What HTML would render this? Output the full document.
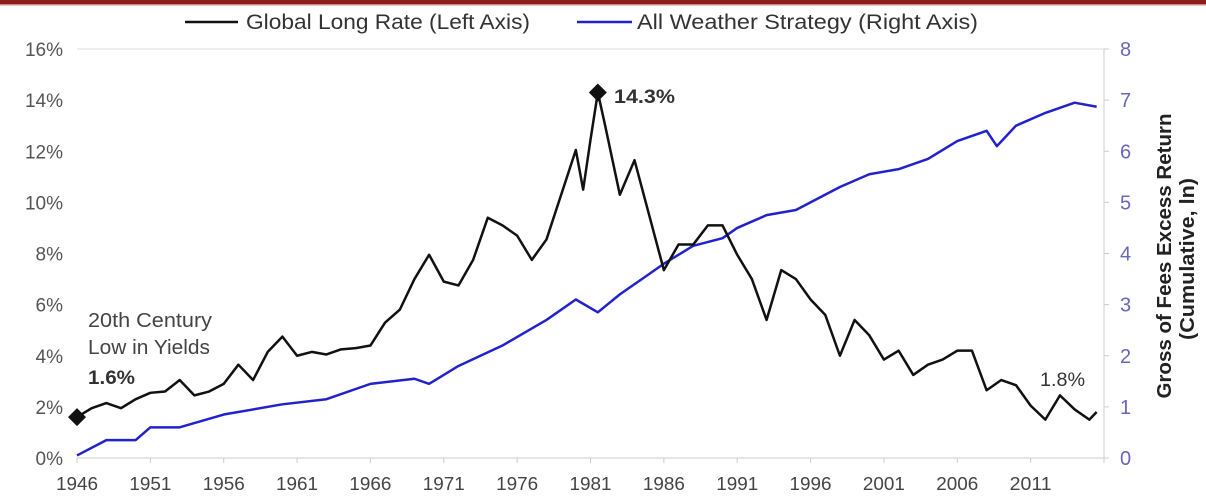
<!DOCTYPE html>
<html><head><meta charset="utf-8"><style>
body{margin:0;background:#fff;}
svg{display:block;font-family:"Liberation Sans",sans-serif;}
</style></head><body>
<svg id="chart" width="1206" height="501">
<rect x="0" y="0" width="1206" height="4" fill="#8b1c1c"/>
<rect x="0" y="4" width="1206" height="1.5" fill="#c88"/>
<g>
<line x1="185" y1="22" x2="238" y2="22" stroke="#111" stroke-width="2.5"/>
<text x="246" y="29" font-size="21" fill="#333" textLength="284" lengthAdjust="spacingAndGlyphs">Global Long Rate (Left Axis)</text>
<line x1="577" y1="22" x2="632" y2="22" stroke="#2222cc" stroke-width="2.5"/>
<text x="637" y="29" font-size="21" fill="#333" textLength="341" lengthAdjust="spacingAndGlyphs">All Weather Strategy (Right Axis)</text>
</g>
<line x1="77" y1="49" x2="1104" y2="49" stroke="#ddd"/>
<line x1="77" y1="458" x2="1104" y2="458" stroke="#ccc"/>
<line x1="1104" y1="49" x2="1104" y2="458" stroke="#ccc"/>
<g id="axes"></g>
<g id="series"></g>
<g>
<text x="88" y="327" font-size="20" fill="#444" textLength="124" lengthAdjust="spacingAndGlyphs">20th Century</text>
<text x="88" y="354" font-size="20" fill="#444" textLength="122" lengthAdjust="spacingAndGlyphs">Low in Yields</text>
<text x="88" y="384" font-size="19" font-weight="bold" fill="#333" textLength="47" lengthAdjust="spacingAndGlyphs">1.6%</text>
<text x="614" y="103" font-size="19" font-weight="bold" fill="#333" textLength="61" lengthAdjust="spacingAndGlyphs">14.3%</text>
<text x="1040" y="386" font-size="19" fill="#333" textLength="45" lengthAdjust="spacingAndGlyphs">1.8%</text>
</g>
<text transform="translate(1171,256) rotate(-90)" text-anchor="middle" font-size="20" font-weight="bold" fill="#222" textLength="285" lengthAdjust="spacingAndGlyphs">Gross of Fees Excess Return</text>
<text transform="translate(1194,259) rotate(-90)" text-anchor="middle" font-size="20" font-weight="bold" fill="#222" textLength="162" lengthAdjust="spacingAndGlyphs">(Cumulative, ln)</text>
</svg>
<script>
const xTicks=[1946,1951,1956,1961,1966,1971,1976,1981,1986,1991,1996,2001,2006,2011];
const leftTicks=[0,2,4,6,8,10,12,14,16];
const rightTicks=[0,1,2,3,4,5,6,7,8];
const rateYears=[1946,1947,1948,1949,1950,1951,1952,1953,1954,1955,1956,1957,1958,1959,1960,1961,1962,1963,1964,1965,1966,1967,1968,1969,1970,1971,1972,1973,1974,1975,1976,1977,1978,1979,1980,1980.5,1981,1981.5,1982,1983,1984,1985,1986,1987,1988,1989,1990,1991,1992,1993,1994,1995,1996,1997,1998,1999,2000,2001,2002,2003,2004,2005,2006,2007,2008,2009,2010,2011,2012,2013,2014,2015,2015.5];
const rateValues=[1.6,1.95,2.15,1.95,2.3,2.55,2.6,3.05,2.45,2.6,2.9,3.65,3.05,4.15,4.75,4.0,4.15,4.05,4.25,4.3,4.4,5.3,5.8,7.0,7.95,6.9,6.75,7.75,9.4,9.1,8.7,7.75,8.55,10.3,12.05,10.5,12.45,14.3,13.0,10.3,11.65,9.5,7.35,8.35,8.35,9.1,9.1,7.95,7.0,5.4,7.35,7.0,6.2,5.6,4.0,5.4,4.8,3.85,4.2,3.25,3.65,3.85,4.2,4.2,2.65,3.05,2.85,2.05,1.5,2.45,1.9,1.5,1.8];
const awYears=[1946,1948,1950,1951,1953,1956,1960,1963,1966,1969,1970,1972,1975,1978,1980,1981.5,1983,1986,1988,1990,1991,1993,1995,1998,2000,2002,2004,2006,2008,2008.7,2010,2012,2014,2015.5];
const awValues=[0.05,0.35,0.35,0.6,0.6,0.85,1.05,1.15,1.45,1.55,1.45,1.8,2.2,2.7,3.1,2.85,3.2,3.8,4.15,4.3,4.5,4.75,4.85,5.3,5.55,5.65,5.85,6.2,6.4,6.1,6.5,6.75,6.95,6.87];
const markerYears=[1946,1981.5];
const markerValues=[1.6,14.3];

const X0=77,X1=1104,Y0=458,Y1=49,YR0=1946,YR1=2016;
const xs=y=>X0+(y-YR0)*(X1-X0)/(YR1-YR0);
const yl=v=>Y0-v*(Y0-Y1)/16;
const yr=v=>Y0-v*(Y0-Y1)/8;
const NS="http://www.w3.org/2000/svg";
const axes=document.getElementById('axes'),ser=document.getElementById('series');
function mk(tag,attrs,parent){const e=document.createElementNS(NS,tag);for(const k in attrs)e.setAttribute(k,attrs[k]);parent.appendChild(e);return e;}
xTicks.forEach(t=>{
  const tk=mk('line',{x1:xs(t),x2:xs(t),y1:Y0,y2:Y0+5,stroke:'#ccc'},axes);
  
  
  const tx=mk('text',{x:xs(t),y:490,'text-anchor':'middle','font-size':18,fill:'#444',textLength:42,lengthAdjust:'spacingAndGlyphs'},axes);
  tx.textContent=t;
  
  
});
const endTick=mk('line',{x1:xs(2016),x2:xs(2016),y1:Y0,y2:Y0+5,stroke:'#ccc'},axes);


leftTicks.forEach(t=>{
  const tx=mk('text',{x:63,y:yl(t)+7,'text-anchor':'end','font-size':19,fill:'#555'},axes);
  tx.textContent=t+'%';
  
  
});
rightTicks.forEach(t=>{
  const tk=mk('line',{x1:X1,x2:X1+5,y1:yr(t),y2:yr(t),stroke:'#ccc'},axes);
  
  
  const tx=mk('text',{x:1120,y:yr(t)+7,'font-size':20,fill:'#6666bb'},axes);
  tx.textContent=t;
  
  
});
const aw=mk('polyline',{points:awYears.map((y,i)=>xs(y)+','+yr(awValues[i])).join(' '),fill:'none',stroke:'#2222cc','stroke-width':2.5,'stroke-linejoin':'round'},ser);


const rl=mk('polyline',{points:rateYears.map((y,i)=>xs(y)+','+yl(rateValues[i])).join(' '),fill:'none',stroke:'#111','stroke-width':2.5,'stroke-linejoin':'round'},ser);


markerYears.forEach((y,i)=>{
  const cx=xs(y),cy=yl(markerValues[i]);
  const m=mk('polygon',{points:`${cx},${cy-9} ${cx+9},${cy} ${cx},${cy+9} ${cx-9},${cy}`,fill:'#111'},ser);
  
  
});
</script>
</body></html>
